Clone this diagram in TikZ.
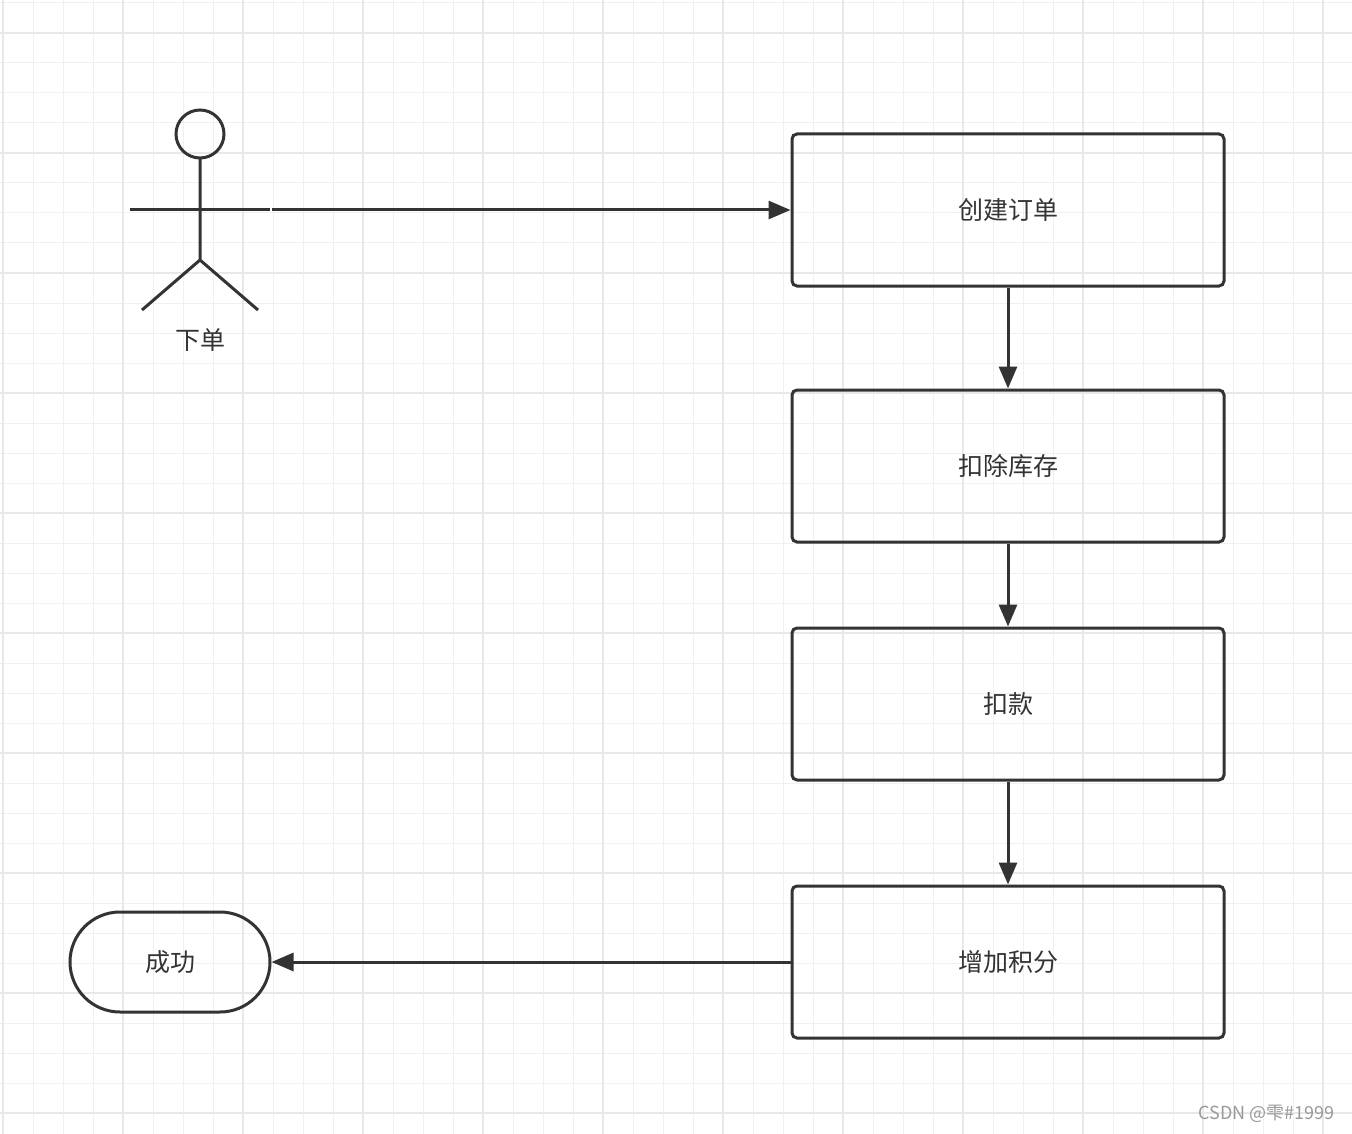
\documentclass[tikz,border=0pt]{standalone}
\usepackage{fontspec}
\newfontfamily\cjk{Noto Sans CJK SC}
\usetikzlibrary{arrows.meta}
\definecolor{ln}{HTML}{333333}
\begin{document}
\begin{tikzpicture}[x=1pt,y=-1pt,
  box/.style={draw=ln,line width=3pt,rounded corners=5pt,minimum width=432pt,minimum height=152pt,font=\cjk\fontsize{25}{30}\selectfont,text=ln},
  arr/.style={draw=ln,line width=3pt,-{Triangle[length=22pt,width=18pt]}},
  stk/.style={draw=ln,line width=3pt}]
\useasboundingbox (0,0) rectangle (1352,1134);
\fill[white] (0,0) rectangle (1352,1134);
\foreach \i in {3,33,...,1352} \draw[black!6,line width=1pt] (\i,0) -- (\i,1134);
\foreach \i in {3,33,...,1134} \draw[black!6,line width=1pt] (0,\i) -- (1352,\i);
\foreach \i in {3,123,...,1352} \draw[black!9,line width=2pt] (\i,0) -- (\i,1134);
\foreach \i in {33,153,...,1134} \draw[black!9,line width=2pt] (0,\i) -- (1352,\i);
\node[box] (a) at (1008,210) {创建订单};
\node[box] (b) at (1008,466) {扣除库存};
\node[box] (c) at (1008,704) {扣款};
\node[box] (d) at (1008,962) {增加积分};
\node[draw=ln,line width=3pt,rounded corners=50pt,minimum width=200pt,minimum height=100pt,font=\cjk\fontsize{25}{30}\selectfont,text=ln] (e) at (170,962) {成功};
\draw[stk] (200,134) circle (24);
\draw[stk] (200,158) -- (200,260) (142,310) -- (200,260) -- (258,310);
\draw[stk] (130,210) -- (270,210);
\coordinate (h) at (272,210);
\node[font=\cjk\fontsize{25}{30}\selectfont,text=ln] (lab) at (200,340) {下单};
\draw[arr] (h) -- (a.west);
\draw[arr] (a) -- (b);
\draw[arr] (b) -- (c);
\draw[arr] (c) -- (d);
\draw[arr] (d.west) -- (e.east);
\node[anchor=east,font=\cjk\fontsize{18}{20}\selectfont,text=black!40] (w) at (1338,1114) {CSDN @雫\#1999};
\end{tikzpicture}
\end{document}
